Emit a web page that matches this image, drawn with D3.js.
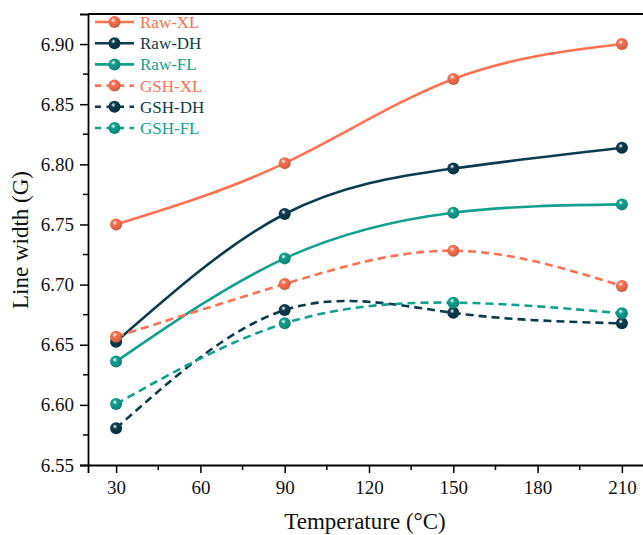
<!DOCTYPE html>
<html>
<head>
<meta charset="utf-8">
<script src="https://cdn.jsdelivr.net/npm/d3@7"></script>
<style>
  body { margin: 0; background: #fff; }
  text { font-family: "Liberation Serif", "Times New Roman", serif; }
</style>
</head>
<body>
<svg id="chart" width="643" height="535"></svg>
<script>
// temperatures (°C)
const temps = [30, 90, 150, 210];

// line width (G) per series
const rawXL = [6.750, 6.801, 6.871, 6.900];
const rawDH = [6.6525, 6.7587, 6.7966, 6.8138];
const rawFL = [6.636, 6.7218, 6.7598, 6.7667];
const gshXL = [6.6567, 6.7005, 6.7282, 6.6988];
const gshDH = [6.5805, 6.6788, 6.6765, 6.6678];
const gshFL = [6.6007, 6.6678, 6.685, 6.6761];

const xTicks = [30, 60, 90, 120, 150, 180, 210];
const yTicks = [6.55, 6.60, 6.65, 6.70, 6.75, 6.80, 6.85, 6.90];

const orange = '#fb7152', navy = '#0d3b4c', teal = '#12a08e';

const series = [
    { name: 'Raw-XL', values: rawXL, color: orange, dashed: false },
    { name: 'Raw-DH', values: rawDH, color: navy, dashed: false },
    { name: 'Raw-FL', values: rawFL, color: teal, dashed: false },
    { name: 'GSH-XL', values: gshXL, color: orange, dashed: true },
    { name: 'GSH-DH', values: gshDH, color: navy, dashed: true },
    { name: 'GSH-FL', values: gshFL, color: teal, dashed: true }
];

const svg = d3.select('#chart');
const plotLeft = 88, plotTop = 14, plotBottom = 465, plotRight = 650;

const x = d3.scaleLinear().domain([20, 220]).range([plotLeft, plotRight]);
const y = d3.scaleLinear().domain([6.55, 6.925]).range([plotBottom, plotTop]);

// sphere-like marker gradients
const defs = svg.append('defs');
series.forEach((s, i) => {
    const g = defs.append('radialGradient')
        .attr('id', 'ball' + i)
        .attr('cx', '40%').attr('cy', '35%').attr('r', '65%');
    g.append('stop').attr('offset', '0%').attr('stop-color', '#ffffff').attr('stop-opacity', 0.9);
    g.append('stop').attr('offset', '30%').attr('stop-color', s.color);
    g.append('stop').attr('offset', '100%').attr('stop-color', d3.color(s.color).darker(0.6));
});

// axes
const xAxis = d3.axisBottom(x).tickValues(xTicks).tickSize(8).tickPadding(8);
const yAxis = d3.axisLeft(y).tickValues(yTicks).tickSize(8).tickPadding(6).tickFormat(d3.format('.2f'));

const gx = svg.append('g').attr('transform', `translate(0,${plotBottom})`).call(xAxis);
const gy = svg.append('g').attr('transform', `translate(${plotLeft},0)`).call(yAxis);

// minor ticks
svg.append('g').selectAll('line')
    .data(d3.range(45, 220, 30))
    .enter().append('line')
    .attr('x1', d => x(d)).attr('x2', d => x(d))
    .attr('y1', plotBottom).attr('y2', plotBottom + 5)
    .attr('stroke', '#000').attr('stroke-width', 1.5);
svg.append('g').selectAll('line')
    .data(d3.range(6.575, 6.92, 0.05))
    .enter().append('line')
    .attr('x1', plotLeft).attr('x2', plotLeft - 5)
    .attr('y1', d => y(d)).attr('y2', d => y(d))
    .attr('stroke', '#000').attr('stroke-width', 1.5);

[gx, gy].forEach(g => {
    g.select('.domain').attr('stroke', '#000').attr('stroke-width', 1.8);
    g.selectAll('.tick line').attr('stroke', '#000').attr('stroke-width', 1.5);
    g.selectAll('.tick text').attr('fill', '#111').style('font-size', '19px')
        .style('font-family', '"Liberation Serif", serif');
});

// top frame line
svg.append('line')
    .attr('x1', plotLeft).attr('x2', plotRight)
    .attr('y1', plotTop).attr('y2', plotTop)
    .attr('stroke', '#000').attr('stroke-width', 1.8);

// axis titles
svg.append('text')
    .attr('x', 365).attr('y', 529)
    .attr('text-anchor', 'middle')
    .attr('fill', '#111')
    .style('font-size', '23px')
    .text('Temperature (°C)');

svg.append('text')
    .attr('transform', 'translate(28,240) rotate(-90)')
    .attr('text-anchor', 'middle')
    .attr('fill', '#111')
    .style('font-size', '23px')
    .text('Line width (G)');

// lines
const line = d3.line()
    .x((d, i) => x(temps[i]))
    .y(d => y(d))
    .curve(d3.curveNatural);

series.forEach((s, i) => {
    svg.append('path')
        .datum(s.values)
        .attr('d', line)
        .attr('fill', 'none')
        .attr('stroke', s.color)
        .attr('stroke-width', 2.6)
        .attr('stroke-dasharray', s.dashed ? '8,5' : null);
});

// markers
series.forEach((s, i) => {
    svg.append('g').selectAll('circle')
        .data(s.values)
        .enter().append('circle')
        .attr('cx', (d, j) => x(temps[j]))
        .attr('cy', d => y(d))
        .attr('r', 6)
        .attr('fill', `url(#ball${i})`);
});

// legend
const legend = svg.append('g');
series.forEach((s, i) => {
    const ly = 22 + i * 21.2;
    legend.append('line')
        .attr('x1', 95).attr('x2', 134)
        .attr('y1', ly).attr('y2', ly)
        .attr('stroke', s.color).attr('stroke-width', 2.6)
        .attr('stroke-dasharray', s.dashed ? '6,5.5' : null);
    legend.append('circle')
        .attr('cx', 114.5).attr('cy', ly).attr('r', 6)
        .attr('fill', `url(#ball${i})`);
    legend.append('text')
        .attr('x', 140).attr('y', ly + 6)
        .attr('fill', s.color)
        .style('font-size', '17px')
        .text(s.name);
});
</script>
</body>
</html>
